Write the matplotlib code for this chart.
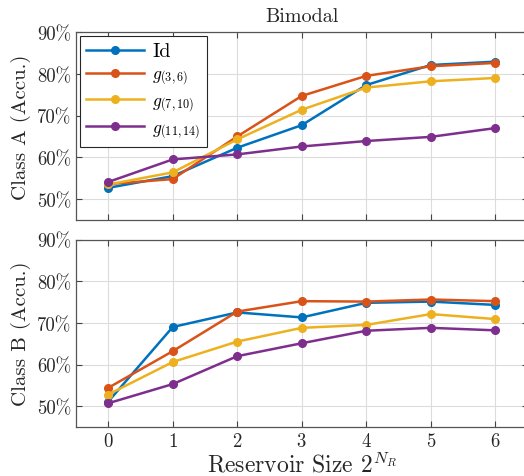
import matplotlib
matplotlib.use("Agg")
import matplotlib.pyplot as plt
from matplotlib.ticker import FuncFormatter

plt.rcParams['font.family'] = 'serif'
plt.rcParams['font.serif'] = ['cmr10']
plt.rcParams['mathtext.fontset'] = 'cm'
plt.rcParams['axes.formatter.use_mathtext'] = True
plt.rcParams['axes.unicode_minus'] = False

# reservoir size exponent N_R
sizes = [0, 1, 2, 3, 4, 5, 6]

series_labels = ['Id', r'$g_{(3,6)}$', r'$g_{(7,10)}$', r'$g_{(11,14)}$']
colors = ['#0072BD', '#D95319', '#EDB120', '#7E2F8E']

# Class A accuracy (%)
class_a_id = [52.7, 55.5, 62.3, 67.7, 77.3, 82.1, 82.9]
class_a_g36 = [53.6, 54.8, 65.0, 74.7, 79.5, 81.8, 82.6]
class_a_g710 = [53.5, 56.4, 64.3, 71.4, 76.7, 78.2, 79.0]
class_a_g1114 = [54.1, 59.5, 60.7, 62.6, 63.9, 64.9, 67.0]

# Class B accuracy (%)
class_b_id = [51.1, 69.0, 72.5, 71.3, 74.8, 75.1, 74.3]
class_b_g36 = [54.4, 63.2, 72.7, 75.2, 75.1, 75.6, 75.2]
class_b_g710 = [52.8, 60.6, 65.5, 68.8, 69.5, 72.1, 70.9]
class_b_g1114 = [50.7, 55.3, 62.0, 65.1, 68.1, 68.8, 68.2]

class_a = [class_a_id, class_a_g36, class_a_g710, class_a_g1114]
class_b = [class_b_id, class_b_g36, class_b_g710, class_b_g1114]

fig = plt.figure(figsize=(5.24, 4.77), dpi=100)
ax_a = fig.add_axes([76 / 524, 1 - 221 / 477, 451.5 / 524, 188 / 477])
ax_b = fig.add_axes([76 / 524, 1 - 428 / 477, 451.5 / 524, 187.5 / 477])

pct = FuncFormatter(lambda v, pos: f'{v:.0f}%')

for ax, data in ((ax_a, class_a), (ax_b, class_b)):
    for vals, lab, col in zip(data, series_labels, colors):
        ax.plot(sizes, vals, '-o', color=col, lw=1.8, ms=5.5, label=lab)
    ax.set_xlim(-0.5, 6.5)
    ax.set_ylim(45, 90)
    ax.set_xticks(sizes)
    ax.set_yticks([50, 60, 70, 80, 90])
    ax.yaxis.set_major_formatter(pct)
    ax.grid(True, color='#dcdcdc', lw=0.8)
    ax.set_axisbelow(True)
    ax.tick_params(direction='in', top=True, right=True, length=4,
                   color='#444444', labelsize=13.5, labelcolor='#262626')
    for sp in ax.spines.values():
        sp.set_color('#555555')
        sp.set_linewidth(0.9)

ax_a.tick_params(labelbottom=False)
ax_a.set_title('Bimodal', fontsize=14.5, color='#262626', pad=8)
ax_a.set_ylabel('Class A (Accu.)', fontsize=15, color='#262626')
ax_b.set_ylabel('Class B (Accu.)', fontsize=15, color='#262626')
ax_b.set_xlabel(r'Reservoir Size $2^{N_R}$', fontsize=17, color='#262626', labelpad=1)

leg = ax_a.legend(loc='upper left', fontsize=12.5, handlelength=3.3,
                  borderaxespad=0.25, fancybox=False, framealpha=1,
                  labelspacing=0.35, borderpad=0.35, handletextpad=0.5)
leg.get_frame().set_edgecolor('#262626')
leg.get_frame().set_linewidth(0.8)
leg.get_texts()[0].set_fontsize(14.5)

fig.savefig('out.png', dpi=100)
